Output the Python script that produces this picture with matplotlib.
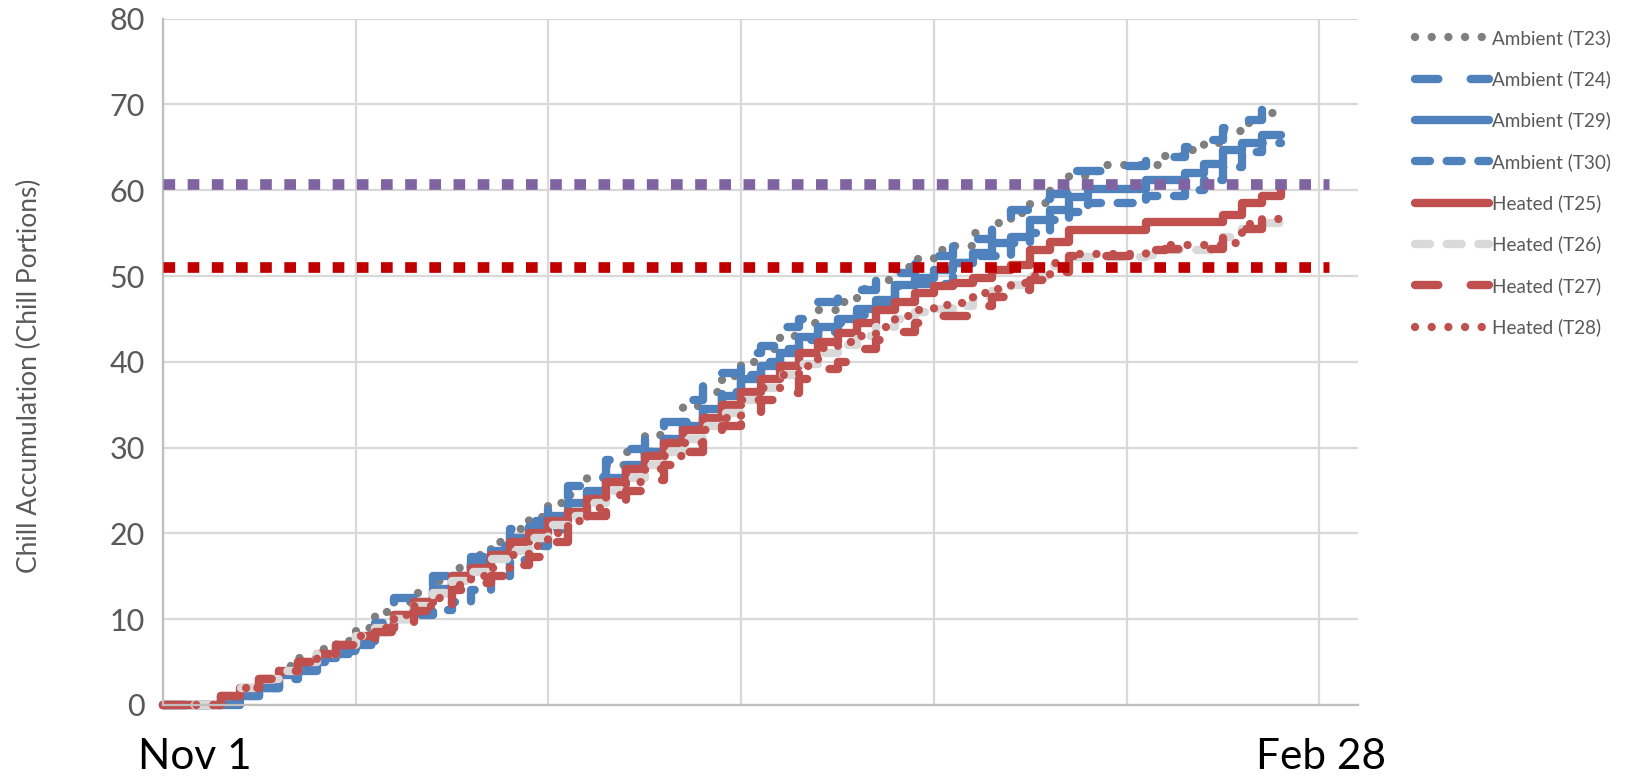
import matplotlib
matplotlib.use("Agg")
import matplotlib.pyplot as plt

plt.rcParams['font.family'] = ['Lato', 'DejaVu Sans']
plt.rcParams['lines.scale_dashes'] = False

# Days since Nov 1 at which the accumulation is sampled
days = list(range(0, 117, 2))

# Chill portions accumulated by each tree / treatment
ambient_t23 = [0, 0, 0, 1, 2, 3, 4.5, 5.5, 6.5, 7.5,
               9, 10.8, 12, 13, 14.5, 16, 17.5, 19, 20.5, 21.9,
               23.5, 24.5, 26.5, 28, 29.5, 31.5, 33, 34.9, 36.5, 38.4,
               40, 41.5, 43, 44.5, 46, 47, 48.5, 49.5, 51, 52,
               53, 53.5, 55, 56.2, 57.4, 58.5, 60, 61.6, 62.2, 62.9,
               62.9, 62.9, 64, 64.7, 65.5, 66.9, 67.8, 69, 69.8]
ambient_t24 = [0, 0, 0, 0, 1, 2, 3.5, 4, 5, 6.3,
               7.5, 9.5, 12.5, 13.4, 15, 16.1, 17.3, 18.5, 20.5, 21.5,
               23.9, 25.5, 26.6, 28.6, 29.8, 32, 33, 35.5, 37.5, 38.7,
               41, 41.8, 44, 45, 47, 48.4, 48.4, 50.3, 50.3, 52.3,
               52.3, 54, 54.3, 56.5, 57.7, 59, 59.5, 62.2, 62.2, 62.8,
               62.8, 63.9, 63.9, 65, 65.9, 67.2, 68.2, 70, 70]
ambient_t29 = [0, 0, 0, 0.5, 1, 2, 3.5, 4.5, 5.5, 6.5,
               7.5, 9, 10.5, 12, 13.5, 15, 16.5, 18, 19.5, 20.8,
               22, 23.5, 25, 26.5, 28, 29.5, 31, 32.5, 34.5, 36,
               38, 39.5, 41, 42.9, 44, 45, 46.2, 47.2, 49, 49.8,
               50.7, 51.5, 52.7, 53.8, 54.5, 56.5, 57.7, 59.2, 60.1, 60.1,
               60.1, 61.2, 61.2, 62, 63.1, 64.7, 65.5, 66.4, 66.4]
ambient_t30 = [0, 0, 0, 0.5, 1, 2, 3, 4, 5, 6,
               7, 8.5, 10, 10.5, 11.1, 12, 13.4, 15, 16.9, 18.5,
               20.5, 22.5, 24, 26, 27.5, 29.5, 31, 33, 34.5, 36.5,
               38.5, 40, 41.5, 42.5, 43.5, 44.5, 45.5, 46.5, 48.8, 49.1,
               49.1, 51.5, 52.3, 52.3, 53.8, 55, 56.5, 57.5, 58.5, 58.5,
               58.5, 59.3, 59.3, 60, 61.2, 62.7, 64.5, 65.5, 65.5]
heated_t25 = [0, 0, 0, 1, 2, 3, 4, 5, 6, 7,
              8, 9, 10.5, 12, 13, 15, 16, 17.5, 19, 20,
              21.5, 22.5, 24, 26, 27.5, 29, 30.5, 32, 33.5, 35,
              36.5, 38, 39.5, 41, 42.3, 43.3, 44.5, 46, 47, 48,
              48.8, 49.2, 49.8, 50.7, 51.3, 53, 54, 55.4, 55.4, 55.4,
              55.4, 56.3, 56.3, 56.3, 56.3, 57.1, 58.5, 59.3, 60.2]
heated_t26 = [0, 0, 0, 1, 2, 3, 4, 5, 6, 7,
              8, 9, 10, 11.5, 13, 14.5, 15.5, 17, 18, 19.5,
              21, 22, 23.5, 25, 26.5, 28, 29.5, 31, 32.5, 34,
              35.5, 37, 38.5, 39.8, 41, 42, 43, 44, 45, 45.8,
              46.2, 46.5, 47.5, 48.2, 49, 50, 51.2, 52.2, 52.2, 52.2,
              52.2, 52.5, 53, 53, 53, 54.5, 55.5, 56.2, 56.2]
heated_t27 = [0, 0, 0, 1, 2, 3, 4, 5, 6, 7,
              7.5, 8.5, 9.5, 10.9, 11.5, 13.4, 14.2, 15, 16.3, 17.3,
              19, 20.5, 22, 23, 25, 26.2, 28, 29.5, 31.5, 32.5,
              33.9, 35.5, 36.4, 38, 39.2, 40, 41.5, 42.5, 43.5, 44.5,
              45.3, 45.3, 46.5, 47.5, 48.4, 49.5, 50.5, 52.3, 52.3, 52.3,
              52.3, 53, 53.2, 53.2, 53.2, 54.5, 55.5, 56.5, 56.5]
heated_t28 = [0, 0, 0, 1, 2, 3, 4, 5, 6, 7,
              8, 9, 10.5, 11.5, 12.5, 14, 15, 16, 17.5, 18.5,
              20, 21.5, 23, 24.5, 26, 27.5, 29, 30.5, 32, 33.5,
              35.5, 37, 38.5, 39.5, 41.6, 42.3, 43, 44, 45.3, 46,
              46.6, 46.8, 48, 48.5, 49.2, 50, 51.5, 52.6, 52.6, 52.6,
              52.6, 53, 53.6, 53.6, 53.6, 53.8, 56.1, 56.6, 56.6]

# Chill requirement thresholds
threshold_high = 60.7
threshold_low = 51
threshold_span = [0, 121]

x_tick_days = [0, 20, 40, 60, 80, 100, 120]
y_ticks = [0, 10, 20, 30, 40, 50, 60, 70, 80]

BLUE = '#4F81BD'
RED = '#C0504D'
GREY = '#7F7F7F'
LIGHT = '#D9D9D9'
TEXT = '#595959'

DOT = (0.01, 12.0)
DASH = (10.8, 12.0)
LONG_DASH = (16.8, 23.3)

series = [
    ("Ambient (T23)", ambient_t23, GREY, DOT),
    ("Ambient (T24)", ambient_t24, BLUE, LONG_DASH),
    ("Ambient (T29)", ambient_t29, BLUE, None),
    ("Ambient (T30)", ambient_t30, BLUE, DASH),
    ("Heated (T25)", heated_t25, RED, None),
    ("Heated (T26)", heated_t26, LIGHT, DASH),
    ("Heated (T27)", heated_t27, RED, LONG_DASH),
    ("Heated (T28)", heated_t28, RED, DOT),
]

W, H = 1626, 777
fig = plt.figure(figsize=(W / 100, H / 100), dpi=100)
ax = fig.add_axes([163 / W, 1 - 705 / H, (1358 - 163) / W, (705 - 18.6) / H])

for label, vals, color, dashes in series:
    kw = dict(color=color, lw=6, drawstyle='steps-post', label=label,
              solid_capstyle='round', dash_capstyle='round',
              solid_joinstyle='round', dash_joinstyle='round', clip_on=False)
    line, = ax.plot(days, vals, **kw)
    if dashes is not None:
        line.set_dashes(dashes)

for level, color in [(threshold_high, '#8064A2'), (threshold_low, '#C00000')]:
    ax.plot(threshold_span, [level, level], color=color, lw=7.7,
            dashes=(8.4, 9.0), dash_capstyle='butt', zorder=5)

ax.set_xlim(0, 124)
ax.set_ylim(0, 80)
ax.set_xticks(x_tick_days)
ax.set_xticklabels([])
ax.set_yticks(y_ticks)
ax.tick_params(axis='both', length=0)
ax.tick_params(axis='y', labelsize=22, labelcolor=TEXT, pad=13)
ax.grid(True, color=LIGHT, lw=1.6)
ax.set_axisbelow(True)
for side in ('top', 'right'):
    ax.spines[side].set_visible(False)
for side in ('left', 'bottom'):
    ax.spines[side].set_color('#BFBFBF')
    ax.spines[side].set_linewidth(1.6)

fig.text(29 / W, 1 - 376 / H, "Chill Accumulation (Chill Portions)",
         rotation=90, ha='center', va='center', fontsize=19, color=TEXT)

fig.text(194.5 / W, 8 / H, "Nov 1", ha='center', va='baseline', fontsize=30.5, color='black')
fig.text(1321 / W, 8 / H, "Feb 28", ha='center', va='baseline', fontsize=30.5, color='black')

fig.legend(loc='upper left', bbox_to_anchor=(1415 / W, 1 - 29 / H),
           frameon=False, fontsize=13.6, labelcolor=TEXT, handlelength=3.9,
           handletextpad=0.2, labelspacing=1.24, borderpad=0, borderaxespad=0)

fig.savefig("out.png", dpi=100)
